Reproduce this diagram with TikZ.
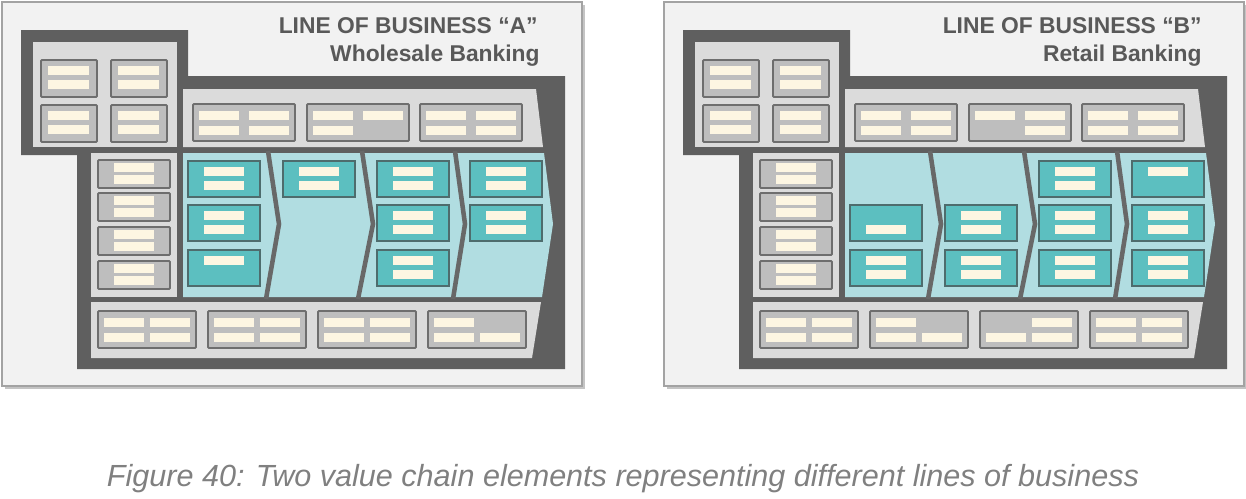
\documentclass[tikz,border=0pt]{standalone}
\usepackage{fontspec}
\setmainfont{Liberation Sans}

\definecolor{outerbg}{HTML}{F2F2F2}
\definecolor{outeredge}{HTML}{A3A3A3}
\definecolor{shadowgray}{HTML}{C4C4C4}
\definecolor{framegray}{HTML}{5F5F5F}
\definecolor{panelgray}{HTML}{DBDBDB}
\definecolor{boxgray}{HTML}{BEBEBE}
\definecolor{boxedge}{HTML}{6E6E6E}
\definecolor{cream}{HTML}{FDF6E2}
\definecolor{lightteal}{HTML}{B1DDE1}
\definecolor{tealfill}{HTML}{5CBFC0}
\definecolor{tealedge}{HTML}{4E6C6D}
\definecolor{sepgray}{HTML}{686868}
\definecolor{titlegray}{HTML}{595959}
\definecolor{captiongray}{HTML}{808080}

\tikzset{
  outerbox/.style={fill=outerbg, draw=outeredge, line width=.8pt},
  frame/.style={fill=framegray},
  panel/.style={fill=panelgray},
  graybox/.style={fill=boxgray, draw=boxedge, line width=1.1pt, rounded corners=.6pt},
  bar/.style={fill=cream},
  tealbox/.style={fill=tealfill, draw=tealedge, line width=1.3pt},
  sep/.style={draw=sepgray, line width=2.6pt},
  title/.style={font=\bfseries\fontsize{13}{15}\selectfont, text=titlegray, inner sep=0pt},
  caption/.style={font=\itshape\fontsize{17.4}{20}\selectfont, text=captiongray, inner sep=0pt}
}

\begin{document}
\begin{tikzpicture}[x=.02cm, y=-.02cm]
\useasboundingbox (0,0) rectangle (1246,498);

% the two value chains share one frame
\foreach \dx in {0,662}{
\begin{scope}[shift={(\dx,0)}]
  \fill[shadowgray] (5,5) rectangle (585,389);
  \draw[outerbox] (2,2) rectangle (582,386);
  \fill[frame] (21,30)--(188,30)--(188,76)--(565,76)--(565,369)--(77,369)--(77,155)--(21,155)--cycle;
  \fill[panel] (33,42) rectangle (177,147);
  \fill[panel] (183,89)--(536,89)--(543,147)--(183,147)--cycle;
  \fill[panel] (91,153) rectangle (177,297);
  \fill[panel] (91,302)--(541,302)--(532,358)--(91,358)--cycle;
  \fill[lightteal] (183,153)--(544,153)--(553,224)--(542,297)--(183,297)--cycle;
  \foreach \tx/\mx/\bx in {268/279/266,362/373/358,455/465/453}
    \draw[sep] (\tx,151)--(\mx,224)--(\bx,299);
  \foreach \x/\y in {41/60,111/60,41/105,111/105}{
    \draw[graybox] (\x,\y) rectangle ++(56,37);
    \fill[bar] (\x+7,\y+6) rectangle ++(41,9);
    \fill[bar] (\x+7,\y+20) rectangle ++(41,9);
  }
  \foreach \y in {160,193,227,261}{
    \draw[graybox] (98,\y) rectangle ++(72,28);
    \fill[bar] (114,\y+3) rectangle ++(40,9);
    \fill[bar] (114,\y+15) rectangle ++(40,9);
  }
\end{scope}
}

% line of business A
\foreach \x/\y/\w/\slots in {193/104/102/{1,2,3,4},307/104/102/{1,2,3},420/104/102/{1,2,3,4},
    98/311/98/{1,2,3,4},208/311/98/{1,2,3,4},318/311/98/{1,2,3,4},428/311/98/{1,3,4}}{
  \draw[graybox] (\x,\y) rectangle ++(\w,37);
  \foreach \s in \slots{
    \pgfmathsetmacro\bx{\x+6+mod(\s-1,2)*(\w-52)}
    \pgfmathsetmacro\by{\y+7+int((\s-1)/2)*15}
    \fill[bar] (\bx,\by) rectangle ++(40,9);
  }
}
\foreach \x/\y/\slots in {188/161/{1,2},188/205/{1,2},188/250/{1},283/161/{1,2},
    377/161/{1,2},377/205/{1,2},377/250/{1,2},470/161/{1,2},470/205/{1,2}}{
  \draw[tealbox] (\x,\y) rectangle ++(72,36);
  \foreach \s in \slots
    \fill[bar] (\x+16,\y+14*\s-8) rectangle ++(40,9);
}
\node[title, anchor=base east] (titleA) at (538,33) {LINE OF BUSINESS “A”};
\node[title, anchor=base east] (subA) at (540,61) {Wholesale Banking};

% line of business B
\foreach \x/\y/\w/\slots in {855/104/102/{1,2,3,4},969/104/102/{1,2,4},1082/104/102/{1,2,3,4},
    760/311/98/{1,2,3,4},870/311/98/{1,3,4},980/311/98/{2,3,4},1090/311/98/{1,2,3,4}}{
  \draw[graybox] (\x,\y) rectangle ++(\w,37);
  \foreach \s in \slots{
    \pgfmathsetmacro\bx{\x+6+mod(\s-1,2)*(\w-52)}
    \pgfmathsetmacro\by{\y+7+int((\s-1)/2)*15}
    \fill[bar] (\bx,\by) rectangle ++(40,9);
  }
}
\foreach \x/\y/\slots in {850/205/{2},850/250/{1,2},945/205/{1,2},945/250/{1,2},
    1039/161/{1,2},1039/205/{1,2},1039/250/{1,2},1132/161/{1},1132/205/{1,2},1132/250/{1,2}}{
  \draw[tealbox] (\x,\y) rectangle ++(72,36);
  \foreach \s in \slots
    \fill[bar] (\x+16,\y+14*\s-8) rectangle ++(40,9);
}
\node[title, anchor=base east] (titleB) at (1202,33) {LINE OF BUSINESS “B”};
\node[title, anchor=base east] (subB) at (1202,61) {Retail Banking};

\node[caption, anchor=base] (caption) at (623,486) {Figure 40: Two value chain elements representing different lines of business};
\end{tikzpicture}
\end{document}
